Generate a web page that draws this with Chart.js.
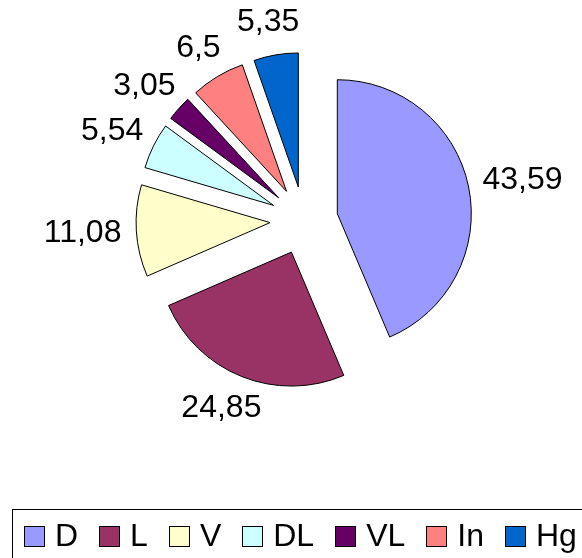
<!DOCTYPE html>
<html>
<head>
<meta charset="utf-8">
<script src="https://cdn.jsdelivr.net/npm/chart.js@4.4.1/dist/chart.umd.min.js"></script>
<style>
  body { margin: 0; background: #fff; }
  #wrap { position: relative; width: 582px; height: 558px; overflow: hidden; }
  #chart-box { position: absolute; left: 0; top: 0; width: 582px; height: 558px; }
  #legend {
    position: absolute; left: 12px; top: 509px; width: 620px; height: 60px;
    border-top: 1px solid #000; border-left: 1px solid #000;
    box-sizing: border-box; padding: 9px 0 0 11px;
    display: flex; align-items: flex-start;
    font-family: "Liberation Sans", Arial, sans-serif; font-size: 32px; line-height: 32px; color: #000;
  }
  .item { display: flex; align-items: flex-start; margin-right: 21px; }
  .sq { width: 19px; height: 19px; border: 1px solid #000; margin-right: 10px; margin-top: 7px; }
</style>
</head>
<body>
<div id="wrap">
  <div id="chart-box"><canvas id="chart"></canvas></div>
  <div id="legend"></div>
</div>
<script>
// data
const categories = ["D", "L", "V", "DL", "VL", "In", "Hg"];
const values = [43.59, 24.85, 11.08, 5.54, 3.05, 6.5, 5.35];
const colors = ["#9999FF", "#993366", "#FFFFCC", "#CCFFFF", "#660066", "#FF8080", "#0066CC"];

const EXPLODE = 34; // every slice pulled out the same way
const LABEL_GAP = 15;
const FONT = '32px "Liberation Sans", Arial, sans-serif';

// draw arcs shifted outwards (excel style explode)
const explodePlugin = {
  id: "explode",
  beforeDatasetDraw(chart, args) {
    const ctx = chart.ctx;
    args.meta.data.forEach((arc) => {
      const mid = (arc.startAngle + arc.endAngle) / 2;
      ctx.save();
      ctx.translate(Math.cos(mid) * EXPLODE, Math.sin(mid) * EXPLODE);
      arc.draw(ctx);
      ctx.restore();
    });
    return false;
  },
};

// value labels outside the slices
const labelPlugin = {
  id: "outLabels",
  afterDatasetsDraw(chart) {
    const ctx = chart.ctx;
    const meta = chart.getDatasetMeta(0);
    ctx.save();
    ctx.font = FONT;
    ctx.fillStyle = "#000";
    ctx.textAlign = "center";
    ctx.textBaseline = "middle";
    meta.data.forEach((arc, i) => {
      const txt = String(values[i]).replace(".", ",");
      const w = ctx.measureText(txt).width;
      const h = 37;
      const mid = (arc.startAngle + arc.endAngle) / 2;
      const cx = Math.cos(mid), cy = Math.sin(mid);
      const d = arc.outerRadius + EXPLODE + LABEL_GAP;
      const x = arc.x + cx * d + cx * w / 2;
      const y = arc.y + cy * d + cy * h / 2;
      ctx.fillText(txt, x, y);
    });
    ctx.restore();
  },
};

new Chart(document.getElementById("chart"), {
  type: "pie",
  data: {
    labels: categories,
    datasets: [
      {
        data: values,
        backgroundColor: colors,
        borderColor: "#000",
        borderWidth: 1,
        hoverBorderWidth: 1,
        hoverOffset: 0,
      },
    ],
  },
  options: {
    responsive: true,
    maintainAspectRatio: false,
    animation: false,
    events: [],
    layout: { padding: { left: 169.5, top: 86, right: 143.5, bottom: 203 } },
    plugins: {
      legend: { display: false },
      tooltip: { enabled: false },
    },
  },
  plugins: [explodePlugin, labelPlugin],
});

// legend like the excel one
const legendEl = document.getElementById("legend");
categories.forEach((c, i) => {
  const item = document.createElement("div");
  item.className = "item";
  const sq = document.createElement("div");
  sq.className = "sq";
  sq.style.background = colors[i];
  const t = document.createElement("span");
  t.textContent = c;
  item.appendChild(sq);
  item.appendChild(t);
  legendEl.appendChild(item);
});
</script>
</body>
</html>
